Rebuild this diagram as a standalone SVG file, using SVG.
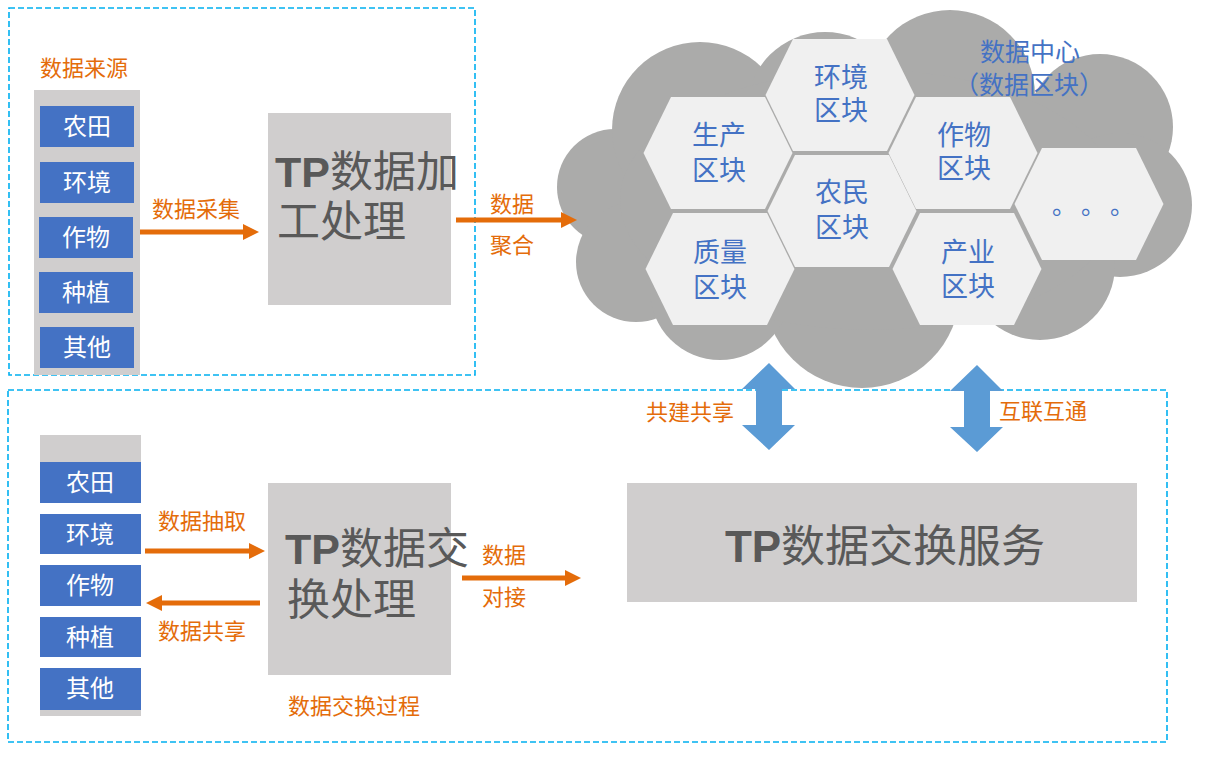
<svg xmlns="http://www.w3.org/2000/svg" width="1208" height="757" viewBox="0 0 1208 757">
<style>
.frame{fill:none;stroke:#00b0f0;stroke-width:1.6;stroke-dasharray:6 3}
.gray{fill:#d0cece}
.blue{fill:#4472c4}
.hex{fill:#f0f0f0}
.cloud{fill:#ababaa}
.cjk{font-family:"Noto Sans CJK SC","Noto Sans",sans-serif}
.wt{fill:#ffffff;font-size:24px;text-anchor:middle}
.ot{fill:#e46c0a;font-size:22px;text-anchor:middle}
.ht{fill:#4472c4;font-size:27px;text-anchor:middle}
.tp{fill:#595959;font-size:43px}
.tpb{font-family:"Liberation Sans",Arial,sans-serif;font-weight:bold}
.arr{stroke:#e46c0a;stroke-width:5;fill:none}
.dbl{fill:#5b9bd5}
</style>
<defs>
<marker id="ah" markerUnits="userSpaceOnUse" markerWidth="16" markerHeight="16" viewBox="0 0 16 16" refX="1" refY="8" orient="auto">
<path d="M0,0 L16,8 L0,16 z" fill="#e46c0a"/>
</marker>
<polygon id="hx" points="-74.5,0 -47,-56 47,-56 74.5,0 47,56 -47,56"/>
</defs>
<rect width="1208" height="757" fill="#ffffff"/>

<g id="frames">
<rect class="frame" x="9" y="8" width="466" height="367"/>
<rect class="frame" x="8" y="390" width="1159" height="352"/>
</g>

<g id="cloud" class="cloud">
<circle cx="615" cy="187" r="58"/>
<circle cx="636" cy="262" r="60"/>
<circle cx="700" cy="130" r="88"/>
<circle cx="825" cy="110" r="78"/>
<circle cx="950" cy="95" r="85"/>
<circle cx="1100" cy="127" r="73"/>
<circle cx="1120" cy="205" r="72"/>
<circle cx="1040" cy="265" r="75"/>
<circle cx="862" cy="290" r="98"/>
<circle cx="720" cy="290" r="70"/>
<ellipse cx="870" cy="200" rx="250" ry="130"/>
</g>

<g id="datacenter-label" class="cjk" fill="#4472c4" font-size="25" text-anchor="middle">
<text x="1030" y="61">数据中心</text>
<text x="1029" y="94">（数据区块）</text>
</g>

<g id="hex-shengchan"><use href="#hx" class="hex" x="718" y="153"/><text class="cjk ht" x="719" y="145">生产</text><text class="cjk ht" x="719" y="180">区块</text></g>
<g id="hex-huanjing"><use href="#hx" class="hex" x="840" y="95"/><text class="cjk ht" x="841" y="87">环境</text><text class="cjk ht" x="841" y="120">区块</text></g>
<g id="hex-zuowu"><use href="#hx" class="hex" x="963" y="153"/><text class="cjk ht" x="964" y="145">作物</text><text class="cjk ht" x="964" y="178">区块</text></g>
<g id="hex-nongmin"><use href="#hx" class="hex" x="842" y="211"/><text class="cjk ht" x="842" y="202">农民</text><text class="cjk ht" x="842" y="237">区块</text></g>
<g id="hex-zhiliang"><use href="#hx" class="hex" x="720" y="269"/><text class="cjk ht" x="720" y="262">质量</text><text class="cjk ht" x="720" y="297">区块</text></g>
<g id="hex-chanye"><use href="#hx" class="hex" x="967" y="269"/><text class="cjk ht" x="968" y="262">产业</text><text class="cjk ht" x="968" y="296">区块</text></g>
<g id="hex-more"><use href="#hx" class="hex" x="1089" y="204"/>
<text class="cjk" fill="#4472c4" font-size="24" x="1052" y="214">。</text>
<text class="cjk" fill="#4472c4" font-size="24" x="1081" y="214">。</text>
<text class="cjk" fill="#4472c4" font-size="24" x="1110" y="214">。</text>
</g>

<g id="source-top">
<text class="cjk ot" x="84" y="76" font-size="23">数据来源</text>
<rect class="gray" x="34" y="90" width="106" height="285"/>
<rect class="blue" x="40" y="106" width="94" height="41"/><text class="cjk wt" x="87" y="135">农田</text>
<rect class="blue" x="40" y="162" width="94" height="41"/><text class="cjk wt" x="87" y="191">环境</text>
<rect class="blue" x="39" y="217" width="94" height="41"/><text class="cjk wt" x="86" y="246">作物</text>
<rect class="blue" x="39" y="272" width="94" height="41"/><text class="cjk wt" x="86" y="301">种植</text>
<rect class="blue" x="40" y="327" width="94" height="41"/><text class="cjk wt" x="87" y="356">其他</text>
</g>

<g id="tp-process">
<rect class="gray" x="268" y="113" width="183" height="192"/>
<text class="cjk tp" x="275" y="187"><tspan class="tpb">TP</tspan>数据加</text>
<text class="cjk tp" x="277" y="237">工处理</text>
</g>

<g id="source-bottom">
<rect class="gray" x="40" y="435" width="101" height="281"/>
<rect fill="#ffffff" x="40" y="503" width="101" height="165"/>
<rect class="blue" x="40" y="462" width="101" height="41"/><text class="cjk wt" x="90" y="491">农田</text>
<rect class="blue" x="40" y="514" width="101" height="40"/><text class="cjk wt" x="90" y="543">环境</text>
<rect class="blue" x="40" y="565" width="101" height="41"/><text class="cjk wt" x="90" y="594">作物</text>
<rect class="blue" x="40" y="617" width="101" height="40"/><text class="cjk wt" x="90" y="646">种植</text>
<rect class="blue" x="40" y="668" width="101" height="42"/><text class="cjk wt" x="90" y="697">其他</text>
</g>

<g id="tp-exchange-process">
<rect class="gray" x="268" y="483" width="183" height="192"/>
<text class="cjk tp" x="285" y="564"><tspan class="tpb">TP</tspan>数据交</text>
<text class="cjk tp" x="287" y="615">换处理</text>
<text class="cjk ot" x="354" y="714" font-size="23">数据交换过程</text>
</g>

<g id="tp-service">
<rect class="gray" x="627" y="483" width="510" height="119"/>
<text class="cjk" fill="#595959" font-size="44" x="885" y="562" text-anchor="middle"><tspan class="tpb">TP</tspan>数据交换服务</text>
</g>

<g id="connectors">
<line class="arr" x1="140" y1="232" x2="244" y2="232" marker-end="url(#ah)"/>
<line class="arr" x1="456" y1="220" x2="562" y2="220" marker-end="url(#ah)"/>
<line class="arr" x1="145" y1="551" x2="250" y2="551" marker-end="url(#ah)"/>
<line class="arr" x1="260" y1="603" x2="161" y2="603" marker-end="url(#ah)"/>
<line class="arr" x1="462" y1="578" x2="566" y2="578" marker-end="url(#ah)"/>
<polygon class="dbl" points="769,363 795,389 782,389 782,425 795,425 769,450 742,425 756,425 756,389 742,389"/>
<polygon class="dbl" points="977,365 1003,391 990,391 990,427 1003,427 977,452 950,427 964,427 964,391 950,391"/>
</g>

<g id="connector-labels" class="cjk">
<text class="ot" x="196" y="217">数据采集</text>
<text class="ot" x="512" y="212">数据</text>
<text class="ot" x="512" y="253">聚合</text>
<text class="ot" x="202" y="529">数据抽取</text>
<text class="ot" x="202" y="639">数据共享</text>
<text class="ot" x="504" y="563">数据</text>
<text class="ot" x="504" y="605">对接</text>
<text class="ot" x="690" y="420">共建共享</text>
<text class="ot" x="1043" y="419">互联互通</text>
</g>
</svg>
